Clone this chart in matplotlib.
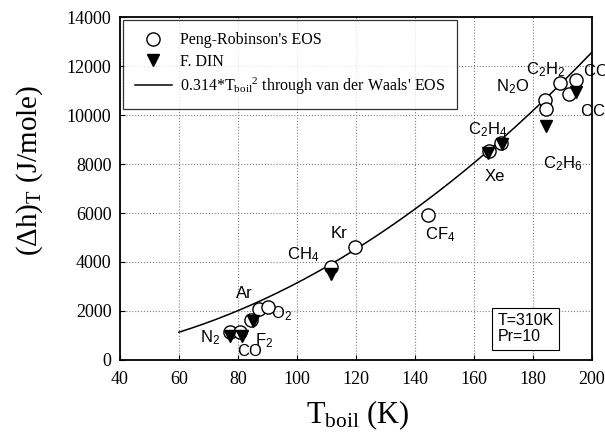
import matplotlib.pyplot as plt
import numpy as np

plt.rcParams['mathtext.fontset'] = 'custom'
plt.rcParams['mathtext.rm'] = 'Liberation Serif'
plt.rcParams['mathtext.it'] = 'Liberation Serif:italic'
plt.rcParams['mathtext.sf'] = 'Liberation Sans'

# Peng-Robinson's EOS (circles)
pr_T = [77.4, 80.8, 84.5, 87.3, 90.2, 111.7, 119.8, 144.5, 165.2, 169.4, 184.2, 184.6, 189.2, 192.3, 194.7]
pr_h = [1150, 1150, 1620, 2100, 2150, 3800, 4600, 5920, 8550, 8850, 10600, 10250, 11300, 10850, 11420]

# F. DIN (triangles)
din_T = [77.4, 81.6, 85.0, 111.7, 164.8, 169.6, 184.6, 194.7]
din_h = [980, 980, 1600, 3500, 8450, 8800, 9550, 10950]

# curve 0.314*T^2
curve_T = np.linspace(60, 200, 200)
curve_h = 0.314 * curve_T ** 2

labels = ['C$_\\mathsf{2}$H$_\\mathsf{2}$', 'N$_\\mathsf{2}$O', 'C$_\\mathsf{2}$H$_\\mathsf{4}$', 'Xe',
          'C$_\\mathsf{2}$H$_\\mathsf{6}$', 'Kr', 'CF$_\\mathsf{4}$', 'CH$_\\mathsf{4}$', 'Ar',
          'O$_\\mathsf{2}$', 'F$_\\mathsf{2}$', 'N$_\\mathsf{2}$', 'CO']
lab_T = [184.4, 173.2, 164.7, 167.0, 190.0, 114.2, 148.8, 102.0, 82.4, 95.0, 89.0, 70.5, 84.0]
lab_h = [11840, 11140, 9390, 7510, 8000, 5180, 5100, 4290, 2730, 1880, 780, 900, 330]

fig = plt.figure(figsize=(6.05, 4.4), dpi=100)
ax = fig.add_axes([0.198, 0.182, 0.78, 0.779])

serif = 'Liberation Serif'
sans = 'Liberation Sans'

ax.plot(curve_T, curve_h, color='black', lw=1.1,
        label='0.314*T$_\\mathrm{boil}$$^\\mathrm{2}$ through van der Waals\' EOS', zorder=3)
ax.plot(pr_T, pr_h, 'o', mfc='white', mec='black', ms=9.5, mew=1.0,
        label="Peng-Robinson's EOS", zorder=4)
ax.plot(din_T, din_h, 'v', color='black', ms=8.5, label='F. DIN', zorder=5)

for s, x, y in zip(labels, lab_T, lab_h):
    ax.text(x, y, s, fontsize=12, family=sans, ha='center', va='center')

# labels cut off by the right edge, as in the source
fig.text(0.964, 0.836, 'CO$_\\mathsf{2}$', fontsize=12, family=sans, va='center')
fig.text(0.959, 0.745, 'CClF$_\\mathsf{3}$', fontsize=12, family=sans, va='center')

ax.text(0.80, 0.045, 'T=310K\nPr=10', transform=ax.transAxes, fontsize=11.5,
        family=sans, ha='left', va='bottom', linespacing=1.1,
        bbox=dict(boxstyle='square,pad=0.35', fc='white', ec='black', lw=0.8))

ax.set_xlim(40, 200)
ax.set_ylim(0, 14000)
ax.set_xticks(np.arange(40, 201, 20))
ax.set_yticks(np.arange(0, 14001, 2000))
ax.grid(True, linestyle=':', color='gray', lw=0.8)
ax.tick_params(direction='in', labelsize=13)
ax.tick_params(axis='x', pad=8)
ax.tick_params(axis='y', pad=6)
for t in ax.get_xticklabels() + ax.get_yticklabels():
    t.set_family(serif)
for sp in ax.spines.values():
    sp.set_linewidth(1.3)

ax.set_xlabel('T$_\\mathrm{boil}$ (K)', fontsize=22, family=serif, va='center')
ax.set_ylabel('($\\Delta$h)$_\\mathrm{T}$ (J/mole)', fontsize=21, family=serif, va='center')
ax.xaxis.set_label_coords(0.505, -0.16)
ax.yaxis.set_label_coords(-0.19, 0.554)

h, l = ax.get_legend_handles_labels()
leg = ax.legend([h[1], h[2], h[0]], [l[1], l[2], l[0]], loc='upper left',
                prop={'family': serif, 'size': 11.5}, frameon=True, fancybox=False,
                edgecolor='black', borderaxespad=0.2, handlelength=2.3,
                handletextpad=0.5, labelspacing=0.35, borderpad=0.75)
leg.get_frame().set_linewidth(0.9)

fig.savefig('out.png', dpi=100)
